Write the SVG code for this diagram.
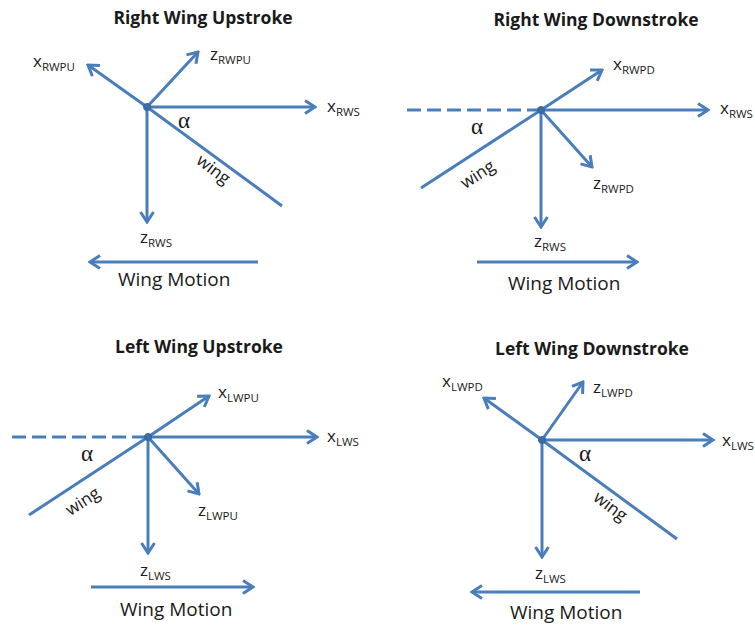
<svg xmlns="http://www.w3.org/2000/svg" width="755" height="627" viewBox="0 0 755 627">
<style>
.ax{stroke:#4a7ebb;stroke-width:3;fill:none;marker-end:url(#ah)}
.ln{stroke:#4a7ebb;stroke-width:3;fill:none}
.ds{stroke:#4a7ebb;stroke-width:3;fill:none;stroke-dasharray:14 6}
.dot{fill:#3d6da5;stroke:#36649a;stroke-width:1}
text{font-family:"Open Sans","Liberation Sans",sans-serif;fill:#1a1a1a}
.ttl{font-size:17.5px;font-weight:bold;text-anchor:middle}
.lab{font-size:17px}
.sub{font-size:11.5px}
text.al{font-family:"Liberation Serif","DejaVu Serif",serif;font-size:23px}
.wg{font-size:17px;text-anchor:middle}
.wm{font-size:19px}
</style>
<defs>
<marker id="ah" markerUnits="userSpaceOnUse" viewBox="-14 -9 16 18" refX="0" refY="0" markerWidth="16" markerHeight="18" orient="auto">
<path d="M-10,-6.5 L0,0 L-10,6.5" fill="none" stroke="#4a7ebb" stroke-width="3" stroke-linejoin="miter"/>
</marker>
</defs>
<g id="connectors">
<line class="ax" x1="147" y1="107" x2="88" y2="65"/>
<line class="ax" x1="147" y1="107" x2="198" y2="52"/>
<line class="ax" x1="147" y1="107" x2="315" y2="107"/>
<line class="ax" x1="147" y1="107" x2="147" y2="222"/>
<line class="ln" x1="147" y1="107" x2="282" y2="206"/>
<line class="ax" x1="258" y1="262" x2="90" y2="262"/>
<line class="ds" x1="407" y1="110" x2="541" y2="110"/>
<line class="ax" x1="541" y1="110" x2="602" y2="70"/>
<line class="ax" x1="541" y1="110" x2="708" y2="110"/>
<line class="ax" x1="541" y1="110" x2="592" y2="167"/>
<line class="ax" x1="541" y1="110" x2="541" y2="227"/>
<line class="ln" x1="541" y1="110" x2="421" y2="188"/>
<line class="ax" x1="477" y1="262" x2="637" y2="262"/>
<line class="ds" x1="12" y1="437" x2="148" y2="437"/>
<line class="ax" x1="148" y1="437" x2="209" y2="396"/>
<line class="ax" x1="148" y1="437" x2="317" y2="437"/>
<line class="ax" x1="148" y1="437" x2="199" y2="494"/>
<line class="ax" x1="148" y1="437" x2="148" y2="553"/>
<line class="ln" x1="148" y1="437" x2="29" y2="515"/>
<line class="ax" x1="91" y1="587" x2="253" y2="587"/>
<line class="ax" x1="542" y1="440" x2="484" y2="398"/>
<line class="ax" x1="542" y1="440" x2="583" y2="382"/>
<line class="ax" x1="542" y1="440" x2="713" y2="440"/>
<line class="ax" x1="542" y1="440" x2="542" y2="557"/>
<line class="ln" x1="542" y1="440" x2="677" y2="539"/>
<line class="ax" x1="640" y1="592" x2="472" y2="592"/>
</g>
<g id="panel-right-upstroke">
<circle class="dot" cx="147" cy="107" r="3.5"/>
<text class="ttl" x="203" y="24">Right Wing Upstroke</text>
<text class="lab" x="33" y="67">x<tspan class="sub" dy="4">RWPU</tspan></text>
<text class="lab" x="210" y="60">z<tspan class="sub" dy="4">RWPU</tspan></text>
<text class="lab" x="327" y="112">x<tspan class="sub" dy="4">RWS</tspan></text>
<text class="lab" x="140" y="243">z<tspan class="sub" dy="4">RWS</tspan></text>
<text class="al" x="178" y="128">α</text>
<text class="wg" transform="translate(213,170) rotate(37)" y="5">wing</text>
<text class="wm" x="118" y="286">Wing Motion</text>
</g>
<g id="panel-right-downstroke">
<circle class="dot" cx="541" cy="110" r="3.5"/>
<text class="ttl" x="596" y="26">Right Wing Downstroke</text>
<text class="lab" x="613" y="70">x<tspan class="sub" dy="4">RWPD</tspan></text>
<text class="lab" x="720" y="114">x<tspan class="sub" dy="4">RWS</tspan></text>
<text class="lab" x="593" y="189">z<tspan class="sub" dy="4">RWPD</tspan></text>
<text class="lab" x="534" y="247">z<tspan class="sub" dy="4">RWS</tspan></text>
<text class="al" x="471" y="134">α</text>
<text class="wg" transform="translate(478,175) rotate(-33)" y="5">wing</text>
<text class="wm" x="508" y="290">Wing Motion</text>
</g>
<g id="panel-left-upstroke">
<circle class="dot" cx="148" cy="437" r="3.5"/>
<text class="ttl" x="199" y="353">Left Wing Upstroke</text>
<text class="lab" x="218" y="398">x<tspan class="sub" dy="4">LWPU</tspan></text>
<text class="lab" x="327" y="442">x<tspan class="sub" dy="4">LWS</tspan></text>
<text class="lab" x="198" y="516">z<tspan class="sub" dy="4">LWPU</tspan></text>
<text class="lab" x="140" y="576">z<tspan class="sub" dy="4">LWS</tspan></text>
<text class="al" x="81" y="461">α</text>
<text class="wg" transform="translate(83,502) rotate(-33)" y="5">wing</text>
<text class="wm" x="120" y="616">Wing Motion</text>
</g>
<g id="panel-left-downstroke">
<circle class="dot" cx="542" cy="440" r="3.5"/>
<text class="ttl" x="592" y="355">Left Wing Downstroke</text>
<text class="lab" x="442" y="387">x<tspan class="sub" dy="4">LWPD</tspan></text>
<text class="lab" x="593" y="393">z<tspan class="sub" dy="4">LWPD</tspan></text>
<text class="lab" x="722" y="446">x<tspan class="sub" dy="4">LWS</tspan></text>
<text class="lab" x="535" y="579">z<tspan class="sub" dy="4">LWS</tspan></text>
<text class="al" x="579" y="461">α</text>
<text class="wg" transform="translate(610,507) rotate(37)" y="5">wing</text>
<text class="wm" x="510" y="619">Wing Motion</text>
</g>
</svg>
